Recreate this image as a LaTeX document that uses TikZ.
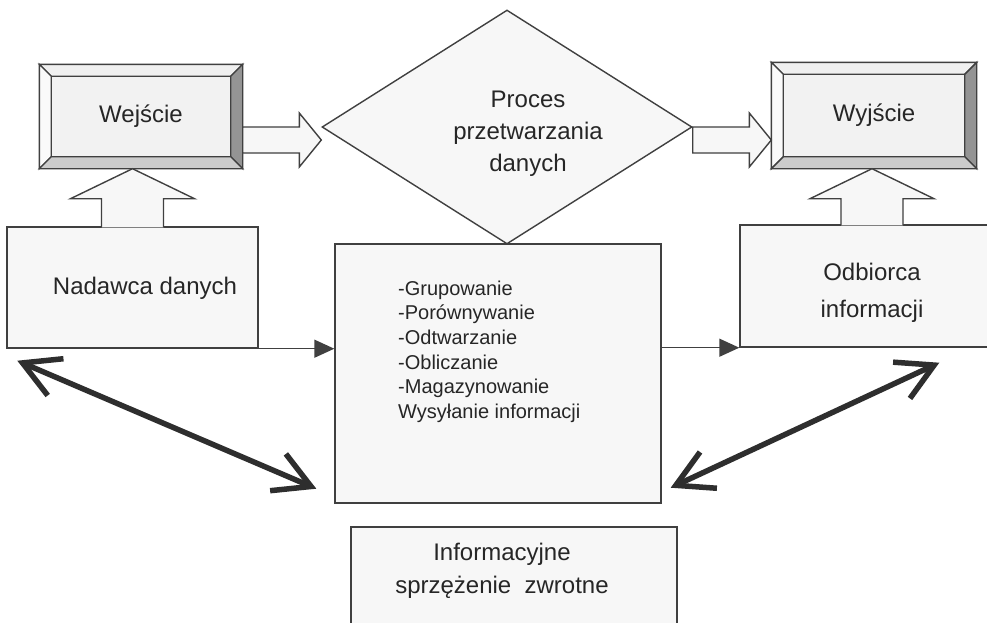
\documentclass[tikz,border=0pt]{standalone}
\usepackage{fontspec}
\setmainfont{Liberation Sans}
\usetikzlibrary{shapes.geometric,arrows.meta,calc}

\tikzset{
    line/.style={draw=black!75, line width=1.4pt},
    panel/.style={line, fill=black!3, inner sep=0pt},
    blockarrow/.style={line, fill=black!3, line join=miter},
    txt/.style={text=black!85, font=\fontsize{24}{32}\selectfont, align=center, inner sep=0pt},
    listtxt/.style={text=black!85, font=\fontsize{20}{24.6}\selectfont, align=left, inner sep=0pt},
    thin/.style={line, -{Triangle[length=20pt,width=18pt]}},
    feedback/.style={draw=black!82, line width=5.5pt,
        {Straight Barb[length=36pt,width=40pt]}-{Straight Barb[length=36pt,width=40pt]}},
}

% bevelled frame drawn over a named rectangle node
\newcommand{\bevelbox}[1]{%
    \filldraw[line, fill=black!6] (#1.north west) -- (#1.north east) -- ($(#1.north east)+(-12,12)$) -- ($(#1.north west)+(12,12)$) -- cycle;
    \filldraw[line, fill=black!2] (#1.north west) -- ($(#1.north west)+(12,12)$) -- ($(#1.south west)+(12,-12)$) -- (#1.south west) -- cycle;
    \filldraw[line, fill=black!42] (#1.north east) -- ($(#1.north east)+(-12,12)$) -- ($(#1.south east)+(-12,-12)$) -- (#1.south east) -- cycle;
    \filldraw[line, fill=black!20] (#1.south west) -- ($(#1.south west)+(12,-12)$) -- ($(#1.south east)+(-12,-12)$) -- (#1.south east) -- cycle;
    \filldraw[line, fill=black!5] ($(#1.north west)+(12,12)$) rectangle ($(#1.south east)+(-12,-12)$);
}
% wide arrow pointing right, from #1 to the tip #2
\newcommand{\blockright}[2]{%
    \filldraw[blockarrow] ($(#1)+(0,-13)$) -- ($(#2)+(-22,-13)$) -- ($(#2)+(-22,-27)$) -- (#2)
        -- ($(#2)+(-22,27)$) -- ($(#2)+(-22,13)$) -- ($(#1)+(0,13)$) -- cycle;
}
% wide arrow pointing up, from the base #1 to the tip #2 (open at the base)
\newcommand{\blockup}[2]{%
    \filldraw[blockarrow] ($(#1)+(-31,1)$) -- ($(#2)+(-31,30)$) -- ($(#2)+(-62,30)$) -- (#2)
        -- ($(#2)+(62,30)$) -- ($(#2)+(31,30)$) -- ($(#1)+(31,1)$);
}

\begin{document}
\begin{tikzpicture}[x=1pt, y=-1pt, >=latex]
        \useasboundingbox (0,0) rectangle (987,622);
        \fill[white] (0,0) rectangle (987,622);
        \clip (0,0) rectangle (987,622);

        % ==== BOXES ====
        \node[panel, minimum width=251pt, minimum height=121pt] (nad) at (132.5,287.5) {};
        \node[panel, minimum width=264pt, minimum height=122pt] (odb) at (872,286) {};
        \node[panel, minimum width=326pt, minimum height=259pt] (list) at (498,373.5) {};
        \node[panel, minimum width=326pt, minimum height=113pt] (inf) at (514,583.5) {};
        \node[panel, diamond, minimum width=370pt, minimum height=234pt] (dia) at (507,127) {};
        \node[panel, minimum width=202pt, minimum height=103pt] (wej) at (141,116.5) {};
        \node[panel, minimum width=204pt, minimum height=105pt] (wyj) at (874,115.5) {};
        \bevelbox{wej}
        \bevelbox{wyj}

        % ==== WIDE ARROWS ====
        \coordinate (inA) at ($(wej.east |- dia.west)+(0,13)$);
        \coordinate (inB) at ($(dia.west)+(0,13)$);
        \coordinate (outA) at ($(dia.east)+(0,13)$);
        \coordinate (outB) at ($(wyj.west |- dia.east)+(0,13)$);
        \blockright{inA}{inB}
        \blockright{outA}{outB}
        \coordinate (upA) at (nad.north);
        \coordinate (upB) at (nad.north |- wej.south);
        \coordinate (upC) at (odb.north);
        \coordinate (upD) at (odb.north |- wyj.south);
        \blockup{upA}{upB}
        \blockup{upC}{upD}

        % ==== THIN ARROWS ====
        \draw[thin] (nad.south east) -- (nad.south east -| list.west);
        \draw[thin] (list.east |- odb.south) -- (odb.south west);

        % ==== FEEDBACK ARROWS ====
        \coordinate (fbA) at ($(nad.south west)+(11,12)$);
        \coordinate (fbB) at ($(list.south west)+(-18,-15)$);
        \coordinate (fbC) at ($(list.south east)+(9,-16)$);
        \coordinate (fbD) at ($(odb.south west)+(200,15)$);
        \draw[feedback] (fbA) -- (fbB);
        \draw[feedback] (fbC) -- (fbD);

        % === LABELS ===
        \node[txt] (wejtxt) at (wej) {Wejście};
        \node[txt] (wyjtxt) at (wyj) {Wyjście};
        \node[txt] (diatxt) at (528,134) {Proces\\przetwarzania\\danych};
        \node[txt] (nadtxt) at (145,288) {Nadawca danych};
        \node[txt, font=\fontsize{24}{37}\selectfont] (odbtxt) at (872,293) {Odbiorca\\informacji};
        \node[listtxt, anchor=north west] (listitems) at (398,280.5)
            {-Grupowanie\\-Porównywanie\\-Odtwarzanie\\-Obliczanie\\-Magazynowanie\\Wysyłanie informacji};
        \node[txt, font=\fontsize{24}{33}\selectfont] (inftxt) at (502,571) {Informacyjne\\sprzężenie~~zwrotne};

\end{tikzpicture}
\end{document}
